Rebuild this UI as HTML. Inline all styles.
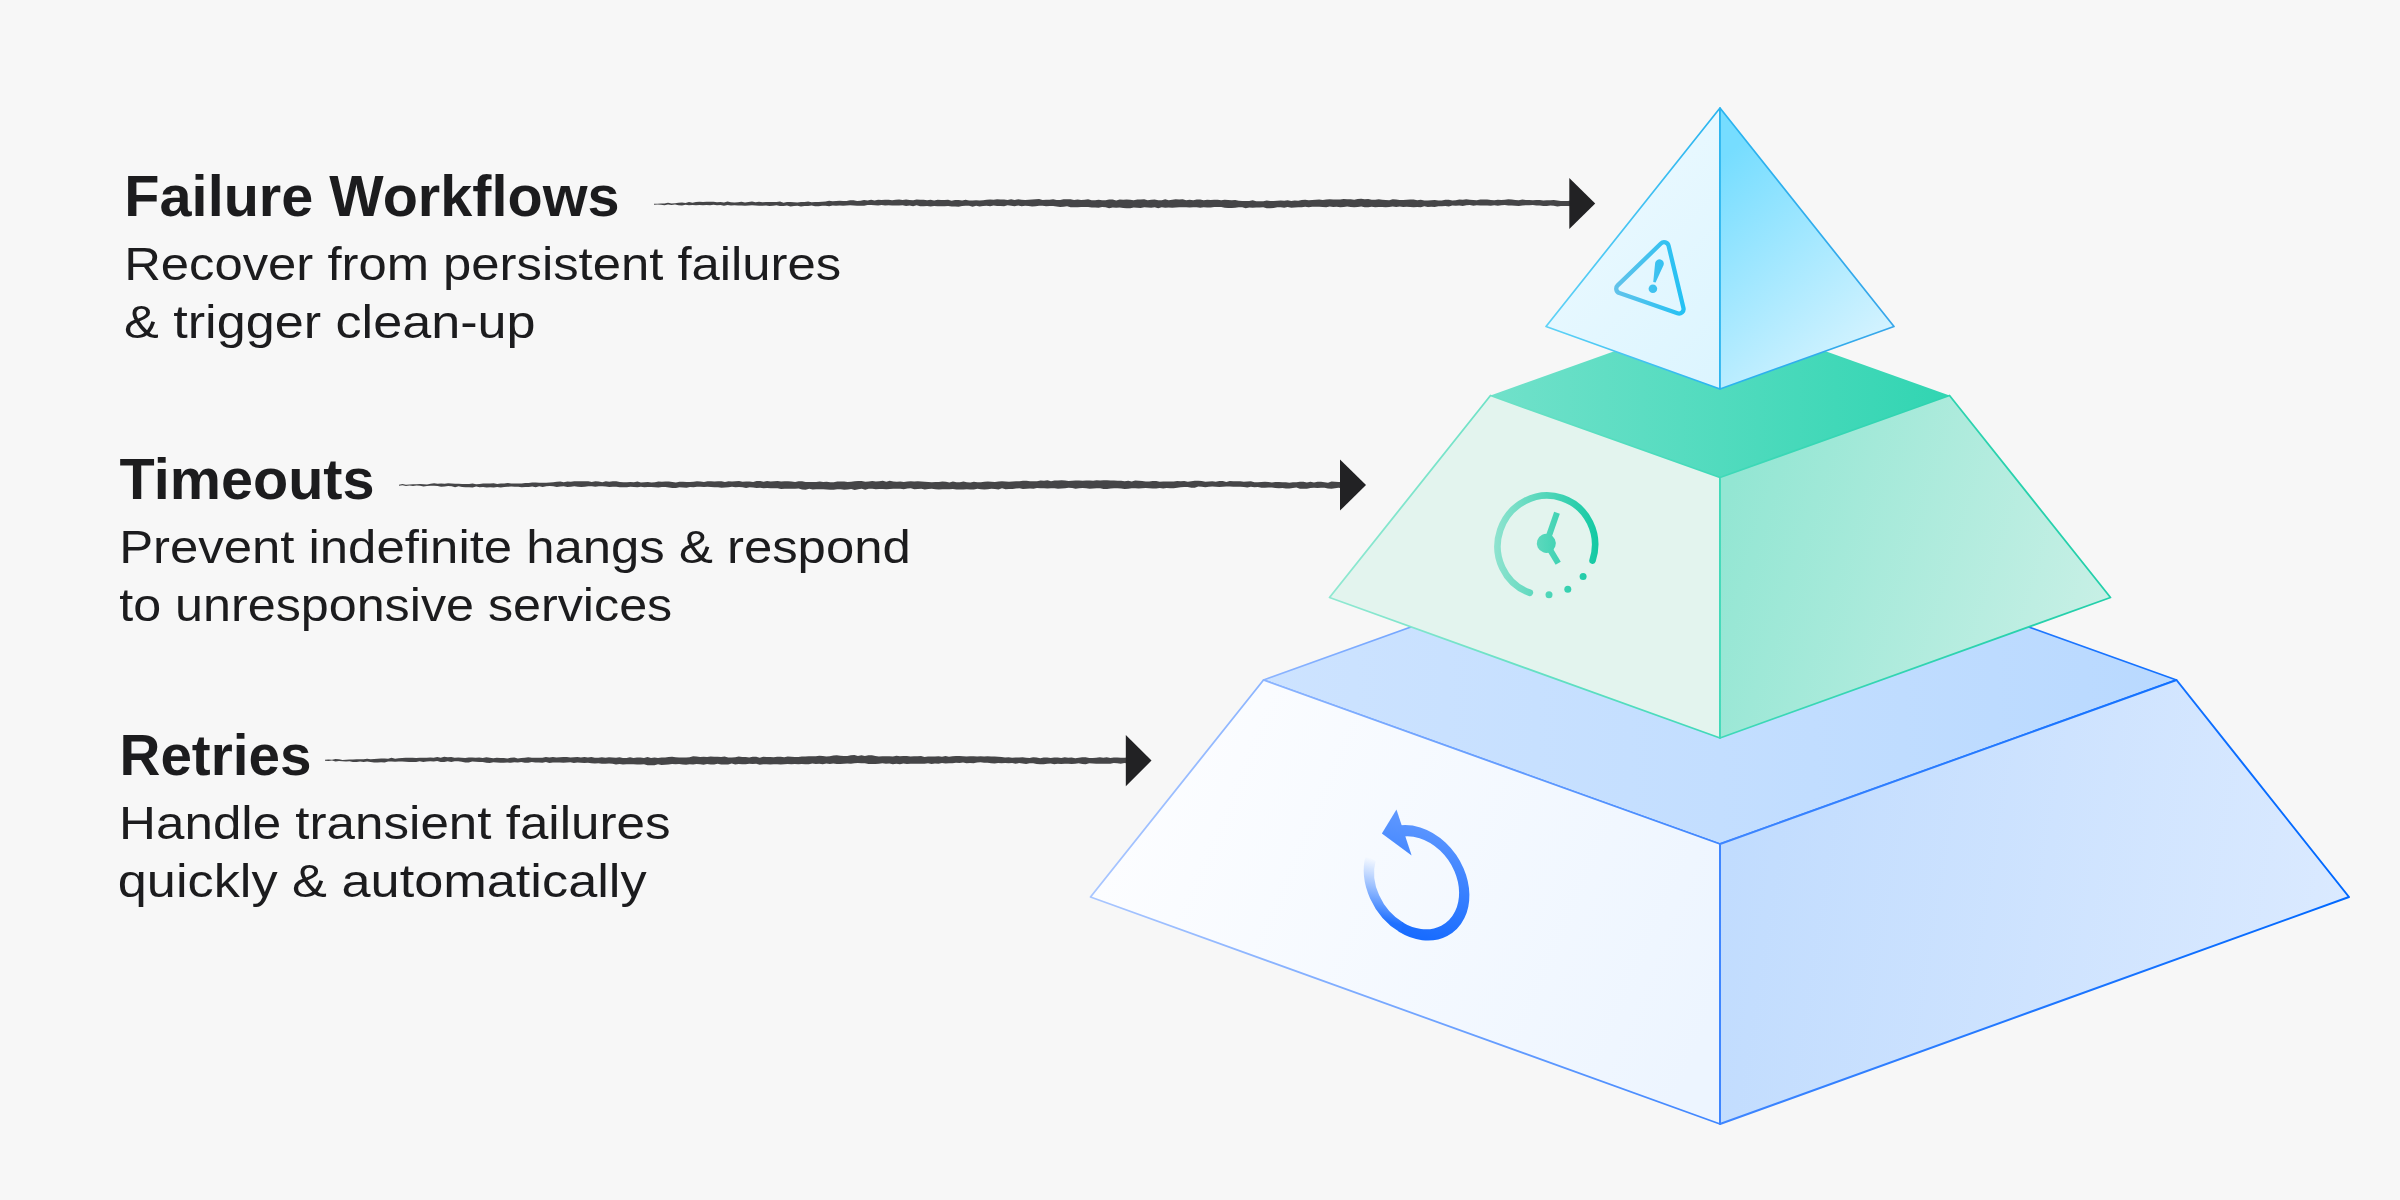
<!DOCTYPE html>
<html><head><meta charset="utf-8"><title>Pyramid</title>
<style>
html,body{margin:0;padding:0;background:#f7f7f7;}
body{width:2400px;height:1200px;overflow:hidden;font-family:"Liberation Sans",sans-serif;}
svg{display:block;will-change:transform}
text{font-family:"Liberation Sans",sans-serif;fill:#1c1c1e}
</style></head><body>
<svg width="2400" height="1200" viewBox="0 0 2400 1200">
<defs>
<!-- bottom layer -->
<linearGradient id="bTop" gradientUnits="userSpaceOnUse" x1="1263" y1="0" x2="2177" y2="0"><stop offset="0" stop-color="#cde3ff"/><stop offset="1" stop-color="#b9d9ff"/></linearGradient>
<linearGradient id="bLeft" gradientUnits="userSpaceOnUse" x1="1150" y1="760" x2="1720" y2="1000"><stop offset="0" stop-color="#fcfdff"/><stop offset="1" stop-color="#edf5ff"/></linearGradient>
<linearGradient id="bRight" gradientUnits="userSpaceOnUse" x1="1720" y1="900" x2="2349" y2="1000"><stop offset="0" stop-color="#c1dcfe"/><stop offset="1" stop-color="#dbeaff"/></linearGradient>
<linearGradient id="bStroke" gradientUnits="userSpaceOnUse" x1="1090" y1="0" x2="2349" y2="0"><stop offset="0" stop-color="#a9c6ff"/><stop offset="0.5" stop-color="#3f86ff"/><stop offset="1" stop-color="#0068ff"/></linearGradient>
<!-- mid layer -->
<linearGradient id="mTop" gradientUnits="userSpaceOnUse" x1="1490" y1="0" x2="1950" y2="0"><stop offset="0" stop-color="#71e1ca"/><stop offset="1" stop-color="#31d5b2"/></linearGradient>
<linearGradient id="mLeft" gradientUnits="userSpaceOnUse" x1="1330" y1="0" x2="1720" y2="0"><stop offset="0" stop-color="#e3f4ee"/><stop offset="1" stop-color="#e3f4ee"/></linearGradient>
<linearGradient id="mRight" gradientUnits="userSpaceOnUse" x1="1720" y1="520" x2="2110" y2="640"><stop offset="0" stop-color="#93e6d3"/><stop offset="1" stop-color="#c9f0e6"/></linearGradient>
<linearGradient id="mStroke" gradientUnits="userSpaceOnUse" x1="1330" y1="0" x2="2110" y2="0"><stop offset="0" stop-color="#90e8d1"/><stop offset="0.5" stop-color="#3fd9b8"/><stop offset="1" stop-color="#22cfaa"/></linearGradient>
<!-- top pyramid -->
<linearGradient id="tLeft" gradientUnits="userSpaceOnUse" x1="1546" y1="200" x2="1720" y2="380"><stop offset="0" stop-color="#ebf9ff"/><stop offset="1" stop-color="#dcf5ff"/></linearGradient>
<linearGradient id="tRight" gradientUnits="userSpaceOnUse" x1="1720" y1="160" x2="1880" y2="340"><stop offset="0" stop-color="#76ddff"/><stop offset="1" stop-color="#d4f3ff"/></linearGradient>
<linearGradient id="tStroke" gradientUnits="userSpaceOnUse" x1="1546" y1="0" x2="1894" y2="0"><stop offset="0" stop-color="#5fd2f6"/><stop offset="0.5" stop-color="#2ab4ef"/><stop offset="1" stop-color="#37a6ea"/></linearGradient>
<!-- icons -->
<linearGradient id="icRetry" gradientUnits="userSpaceOnUse" x1="0" y1="-66" x2="0" y2="56"><stop offset="0" stop-color="#5f98ff"/><stop offset="1" stop-color="#176bff"/></linearGradient>
<linearGradient id="icRetryFade" gradientUnits="userSpaceOnUse" x1="0" y1="-14" x2="0" y2="46"><stop offset="0" stop-color="#3b82ff" stop-opacity="0"/><stop offset="0.25" stop-color="#3b82ff" stop-opacity="0.25"/><stop offset="1" stop-color="#1f70ff" stop-opacity="1"/></linearGradient>
<linearGradient id="icClock" gradientUnits="userSpaceOnUse" x1="-52" y1="0" x2="52" y2="0" gradientTransform="rotate(-19.2)"><stop offset="0" stop-color="#8fe3cf"/><stop offset="1" stop-color="#12c9a3"/></linearGradient>
<linearGradient id="icClockS" gradientUnits="userSpaceOnUse" x1="1495" y1="0" x2="1598" y2="0"><stop offset="0" stop-color="#8fe3cf"/><stop offset="1" stop-color="#12c9a3"/></linearGradient>
<linearGradient id="icWarn" gradientUnits="userSpaceOnUse" x1="1614" y1="0" x2="1686" y2="0"><stop offset="0" stop-color="#63c3ea"/><stop offset="1" stop-color="#22c1f4"/></linearGradient>
</defs>
<rect width="2400" height="1200" fill="#f7f7f7"/>

<!-- bottom layer -->
<polygon points="1263.5,680 1720,516 2176.5,680 1720,844" fill="url(#bTop)" stroke="url(#bStroke)" stroke-width="1.6" stroke-linejoin="round"/>
<polygon points="1263.5,680 1720,844 1720,1124 1090.5,897" fill="url(#bLeft)" stroke="url(#bStroke)" stroke-width="1.8" stroke-linejoin="round"/>
<polygon points="1720,844 2176.5,680 2349,897 1720,1124" fill="url(#bRight)" stroke="url(#bStroke)" stroke-width="2" stroke-linejoin="round"/>
<!-- mid layer -->
<polygon points="1490.5,395.5 1720,313.5 1949.5,395.5 1720,477.5" fill="url(#mTop)"/>
<polygon points="1490.5,395.5 1720,477.5 1720,738 1329.5,597.5" fill="url(#mLeft)" stroke="url(#mStroke)" stroke-width="1.8" stroke-linejoin="round"/>
<polygon points="1720,477.5 1949.5,395.5 2110.5,597.5 1720,738" fill="url(#mRight)" stroke="url(#mStroke)" stroke-width="1.8" stroke-linejoin="round"/>
<!-- top pyramid -->
<polygon points="1720,108 1720,389 1546,326.5" fill="url(#tLeft)" stroke="url(#tStroke)" stroke-width="1.7" stroke-linejoin="round"/>
<polygon points="1720,108 1894,326.5 1720,389" fill="url(#tRight)" stroke="url(#tStroke)" stroke-width="1.7" stroke-linejoin="round"/>
<path d="M1660.90 243.52 A4.6 4.6 0 0 1 1668.58 245.75 L1683.44 307.91 A4.6 4.6 0 0 1 1677.45 313.33 L1619.34 293.06 A4.6 4.6 0 0 1 1617.66 285.41 Z" fill="none" stroke="url(#icWarn)" stroke-width="4.3" stroke-linejoin="round"/>
<path d="M1655.16 262.74 A4.4 4.4 0 1 1 1663.64 265.06 L1655.56 282.52 L1653.24 281.88 Z" fill="url(#icWarn)"/>
<circle cx="1652.9" cy="288.8" r="4.3" fill="url(#icWarn)"/>
<g transform="translate(1546.3 545.5) rotate(19.2) scale(1 1.03)" fill="url(#icClock)" stroke="none"><path d="M0 48.6 A48.6 48.6 0 1 1 48.59 -1.10" fill="none" stroke="url(#icClock)" stroke-width="6.6" stroke-linecap="round"/></g><circle cx="1549.0" cy="594.8" r="3.5" fill="url(#icClockS)"/><circle cx="1567.8" cy="589.2" r="3.5" fill="url(#icClockS)"/><circle cx="1583.1" cy="576.5" r="3.5" fill="url(#icClockS)"/><g transform="translate(1546.3 543.4) rotate(19.2)" fill="url(#icClock)" stroke="none"><circle cx="0" cy="0" r="9.5"/><path d="M0 0 L0 -32.5" stroke="url(#icClock)" stroke-width="6" fill="none"/><path d="M0 0 L17.75 14.79" stroke="url(#icClock)" stroke-width="6" fill="none"/></g>
<g transform="matrix(0.936 0.2234 0 1 1416.6 882.8)"><path d="M-19.07 -47.19 A50.9 50.9 0 1 1 -17.41 47.83" fill="none" stroke="url(#icRetry)" stroke-width="11.0"/><path d="M-15.73 48.41 A50.9 50.9 0 0 1 -49.05 -13.60" fill="none" stroke="url(#icRetryFade)" stroke-width="11.0"/><polygon points="-21.5,-68.6 -5.3,-26.2 -37.1,-41.0" fill="url(#icRetry)"/></g>
<!-- arrows -->
<path d="M654.0 203.65 L657.5 203.85 L661.0 203.45 L664.5 203.51 L668.0 202.79 L671.5 203.49 L675.0 203.28 L678.5 202.81 L682.0 202.45 L685.5 203.07 L689.0 201.98 L692.5 202.87 L696.0 201.96 L699.5 201.64 L703.0 202.04 L706.5 201.77 L710.0 201.71 L713.5 201.76 L717.0 202.34 L720.5 202.1 L724.0 202.47 L727.5 201.51 L731.0 202.17 L734.5 202.4 L738.0 202.3 L741.5 201.73 L745.0 202.38 L748.5 201.98 L752.0 201.49 L755.5 202.35 L759.0 201.68 L762.5 202.28 L766.0 201.94 L769.5 202.1 L773.0 202.12 L776.5 202.1 L780.0 201.6 L783.5 202.63 L787.0 201.97 L790.5 202.07 L794.0 202.33 L797.5 202.39 L801.0 201.96 L804.5 201.98 L808.1 201.58 L811.6 202.26 L815.1 202.0 L818.6 202.03 L822.1 201.85 L825.6 201.49 L829.1 200.83 L832.6 201.3 L836.1 201.12 L839.6 200.85 L843.1 200.95 L846.6 200.93 L850.1 200.19 L853.6 200.26 L857.1 200.92 L860.6 200.76 L864.1 200.09 L867.6 200.47 L871.1 199.69 L874.6 200.44 L878.1 199.68 L881.6 199.9 L885.1 199.67 L888.6 199.65 L892.1 200.23 L895.6 199.79 L899.1 199.46 L902.6 199.9 L906.1 199.57 L909.6 200.02 L913.1 200.14 L916.6 199.52 L920.1 199.68 L923.6 199.72 L927.1 200.31 L930.6 199.83 L934.1 200.48 L937.6 199.87 L941.1 200.07 L944.6 200.0 L948.1 199.72 L951.6 200.72 L955.1 199.98 L958.6 199.98 L962.1 200.44 L965.6 199.87 L969.1 200.53 L972.6 200.44 L976.1 200.13 L979.6 200.41 L983.1 200.19 L986.6 199.78 L990.1 199.55 L993.6 199.75 L997.1 199.34 L1000.6 199.5 L1004.1 199.48 L1007.6 200.07 L1011.1 199.26 L1014.6 200.09 L1018.1 199.34 L1021.6 199.68 L1025.1 199.95 L1028.6 199.87 L1032.1 199.43 L1035.6 199.15 L1039.1 198.98 L1042.6 199.9 L1046.1 199.75 L1049.6 199.85 L1053.1 199.33 L1056.6 199.93 L1060.1 200.06 L1063.6 199.19 L1067.1 199.19 L1070.6 199.19 L1074.1 200.0 L1077.6 199.54 L1081.1 200.06 L1084.6 199.85 L1088.1 199.36 L1091.6 200.29 L1095.1 200.36 L1098.6 199.68 L1102.1 200.31 L1105.6 200.15 L1109.1 199.55 L1112.7 199.48 L1116.2 200.52 L1119.7 199.55 L1123.2 199.68 L1126.7 199.51 L1130.2 199.79 L1133.7 200.35 L1137.2 199.6 L1140.7 199.4 L1144.2 199.31 L1147.7 200.31 L1151.2 199.85 L1154.7 199.51 L1158.2 200.15 L1161.7 200.18 L1165.2 199.33 L1168.7 200.16 L1172.2 199.83 L1175.7 199.36 L1179.2 199.41 L1182.7 199.17 L1186.2 200.18 L1189.7 199.84 L1193.2 200.19 L1196.7 199.54 L1200.2 199.59 L1203.7 200.28 L1207.2 199.72 L1210.7 200.05 L1214.2 199.74 L1217.7 199.81 L1221.2 200.21 L1224.7 199.76 L1228.2 200.06 L1231.7 200.35 L1235.2 200.04 L1238.7 200.81 L1242.2 201.03 L1245.7 200.89 L1249.2 200.98 L1252.7 200.23 L1256.2 201.14 L1259.7 201.13 L1263.2 201.16 L1266.7 200.5 L1270.2 201.03 L1273.7 201.05 L1277.2 200.85 L1280.7 200.53 L1284.2 200.79 L1287.7 200.23 L1291.2 200.94 L1294.7 200.42 L1298.2 200.68 L1301.7 200.1 L1305.2 199.87 L1308.7 200.21 L1312.2 200.05 L1315.7 199.73 L1319.2 199.39 L1322.7 200.09 L1326.2 199.54 L1329.7 199.29 L1333.2 199.54 L1336.7 199.62 L1340.2 199.6 L1343.7 199.06 L1347.2 199.29 L1350.7 199.18 L1354.2 199.73 L1357.7 199.04 L1361.2 198.81 L1364.7 199.35 L1368.2 198.99 L1371.7 199.83 L1375.2 199.66 L1378.7 199.35 L1382.2 199.8 L1385.7 199.99 L1389.2 200.15 L1392.7 199.34 L1396.2 199.44 L1399.7 200.09 L1403.2 200.05 L1406.7 199.73 L1410.2 199.57 L1413.7 199.47 L1417.2 200.35 L1420.8 199.78 L1424.3 200.56 L1427.8 200.38 L1431.3 200.27 L1434.8 200.04 L1438.3 200.62 L1441.8 200.43 L1445.3 199.73 L1448.8 199.68 L1452.3 200.58 L1455.8 200.14 L1459.3 199.57 L1462.8 199.67 L1466.3 199.36 L1469.8 199.8 L1473.3 199.98 L1476.8 200.18 L1480.3 199.54 L1483.8 199.51 L1487.3 199.47 L1490.8 200.06 L1494.3 200.25 L1497.8 199.73 L1501.3 200.05 L1504.8 199.64 L1508.3 199.36 L1511.8 199.4 L1515.3 199.91 L1518.8 200.19 L1522.3 199.55 L1525.8 200.08 L1529.3 200.06 L1532.8 200.14 L1536.3 200.11 L1539.8 200.01 L1543.3 200.6 L1546.8 200.33 L1550.3 200.26 L1553.8 199.9 L1557.3 200.6 L1560.8 200.89 L1564.3 201.1 L1567.8 200.96 L1571.3 200.62 L1571.3 206.27 L1567.8 206.12 L1564.3 206.12 L1560.8 206.12 L1557.3 206.46 L1553.8 205.73 L1550.3 205.58 L1546.8 206.0 L1543.3 205.97 L1539.8 205.59 L1536.3 205.58 L1532.8 205.02 L1529.3 205.35 L1525.8 205.25 L1522.3 205.41 L1518.8 205.88 L1515.3 205.84 L1511.8 205.57 L1508.3 205.62 L1504.8 205.03 L1501.3 205.34 L1497.8 205.66 L1494.3 205.34 L1490.8 205.65 L1487.3 205.55 L1483.8 205.48 L1480.3 205.48 L1476.8 205.17 L1473.3 205.67 L1469.8 205.09 L1466.3 205.34 L1462.8 206.03 L1459.3 205.6 L1455.8 205.8 L1452.3 205.55 L1448.8 206.52 L1445.3 205.97 L1441.8 206.18 L1438.3 206.22 L1434.8 206.89 L1431.3 206.73 L1427.8 206.95 L1424.3 206.24 L1420.8 207.15 L1417.2 206.89 L1413.7 207.32 L1410.2 207.07 L1406.7 206.87 L1403.2 207.11 L1399.7 206.39 L1396.2 206.97 L1392.7 206.62 L1389.2 206.98 L1385.7 207.33 L1382.2 207.0 L1378.7 207.11 L1375.2 207.27 L1371.7 206.67 L1368.2 207.17 L1364.7 207.29 L1361.2 206.41 L1357.7 207.05 L1354.2 207.36 L1350.7 206.99 L1347.2 206.61 L1343.7 206.91 L1340.2 207.18 L1336.7 206.87 L1333.2 206.96 L1329.7 206.44 L1326.2 207.14 L1322.7 206.95 L1319.2 206.84 L1315.7 206.75 L1312.2 206.72 L1308.7 207.16 L1305.2 206.78 L1301.7 207.18 L1298.2 207.36 L1294.7 207.51 L1291.2 207.86 L1287.7 207.09 L1284.2 207.8 L1280.7 207.28 L1277.2 207.34 L1273.7 207.99 L1270.2 208.19 L1266.7 208.21 L1263.2 207.26 L1259.7 207.39 L1256.2 207.56 L1252.7 207.79 L1249.2 207.57 L1245.7 208.29 L1242.2 207.37 L1238.7 207.24 L1235.2 207.68 L1231.7 208.05 L1228.2 207.95 L1224.7 207.74 L1221.2 207.09 L1217.7 207.06 L1214.2 206.98 L1210.7 207.59 L1207.2 207.51 L1203.7 207.23 L1200.2 207.81 L1196.7 207.23 L1193.2 207.3 L1189.7 207.58 L1186.2 207.37 L1182.7 207.2 L1179.2 207.18 L1175.7 207.53 L1172.2 207.68 L1168.7 207.58 L1165.2 207.7 L1161.7 207.17 L1158.2 208.15 L1154.7 207.18 L1151.2 207.64 L1147.7 207.5 L1144.2 207.22 L1140.7 207.95 L1137.2 207.78 L1133.7 207.59 L1130.2 208.34 L1126.7 208.28 L1123.2 208.09 L1119.7 207.44 L1116.2 207.69 L1112.7 207.46 L1109.1 208.14 L1105.6 207.22 L1102.1 207.07 L1098.6 207.86 L1095.1 207.43 L1091.6 207.48 L1088.1 207.07 L1084.6 206.94 L1081.1 207.0 L1077.6 207.15 L1074.1 207.27 L1070.6 207.21 L1067.1 206.19 L1063.6 206.64 L1060.1 206.91 L1056.6 206.5 L1053.1 206.07 L1049.6 206.07 L1046.1 206.24 L1042.6 205.75 L1039.1 205.64 L1035.6 206.2 L1032.1 206.44 L1028.6 206.08 L1025.1 205.68 L1021.6 206.2 L1018.1 205.51 L1014.6 206.14 L1011.1 205.65 L1007.6 205.32 L1004.1 206.28 L1000.6 205.9 L997.1 206.11 L993.6 205.62 L990.1 206.18 L986.6 205.86 L983.1 206.07 L979.6 206.61 L976.1 205.76 L972.6 206.66 L969.1 205.66 L965.6 205.65 L962.1 206.11 L958.6 206.69 L955.1 206.61 L951.6 206.62 L948.1 205.97 L944.6 206.32 L941.1 206.23 L937.6 206.28 L934.1 206.1 L930.6 206.56 L927.1 206.04 L923.6 206.17 L920.1 206.13 L916.6 205.31 L913.1 206.14 L909.6 205.42 L906.1 206.12 L902.6 205.29 L899.1 205.46 L895.6 205.52 L892.1 205.46 L888.6 205.23 L885.1 205.48 L881.6 204.96 L878.1 205.55 L874.6 205.14 L871.1 204.88 L867.6 204.96 L864.1 205.81 L860.6 205.8 L857.1 205.8 L853.6 205.6 L850.1 205.24 L846.6 205.53 L843.1 205.75 L839.6 205.48 L836.1 205.68 L832.6 205.41 L829.1 206.18 L825.6 205.73 L822.1 205.87 L818.6 206.14 L815.1 206.26 L811.6 205.38 L808.1 205.99 L804.5 205.91 L801.0 206.45 L797.5 205.66 L794.0 205.99 L790.5 206.46 L787.0 205.54 L783.5 205.98 L780.0 206.07 L776.5 205.29 L773.0 205.65 L769.5 206.03 L766.0 205.61 L762.5 205.82 L759.0 205.63 L755.5 205.43 L752.0 205.2 L748.5 205.53 L745.0 205.77 L741.5 205.45 L738.0 205.51 L734.5 205.2 L731.0 205.5 L727.5 205.06 L724.0 205.63 L720.5 204.88 L717.0 205.29 L713.5 204.7 L710.0 205.2 L706.5 204.96 L703.0 205.27 L699.5 204.99 L696.0 205.17 L692.5 205.1 L689.0 205.24 L685.5 204.64 L682.0 205.62 L678.5 205.33 L675.0 204.5 L671.5 204.93 L668.0 204.44 L664.5 205.23 L661.0 204.79 L657.5 204.51 L654.0 204.71Z" fill="#454547"/>
<polygon points="1569.3,177.9 1595.2,203.5 1569.3,229.1" fill="#222224"/>
<path d="M399.0 484.64 L402.5 484.04 L406.0 484.79 L409.5 484.51 L413.0 484.34 L416.5 484.23 L420.0 483.98 L423.5 484.22 L427.0 484.4 L430.6 483.78 L434.1 483.27 L437.6 483.69 L441.1 483.54 L444.6 483.65 L448.1 483.32 L451.6 483.42 L455.1 483.64 L458.6 483.83 L462.1 484.08 L465.6 483.91 L469.1 483.94 L472.6 483.49 L476.1 484.15 L479.6 483.91 L483.1 483.57 L486.6 483.58 L490.1 483.56 L493.7 483.36 L497.2 483.92 L500.7 483.5 L504.2 483.61 L507.7 483.0 L511.2 483.45 L514.7 483.6 L518.2 483.52 L521.7 483.48 L525.2 482.89 L528.7 482.96 L532.2 482.49 L535.7 482.62 L539.2 482.64 L542.7 482.76 L546.2 482.77 L549.7 482.5 L553.2 482.31 L556.8 481.76 L560.3 481.55 L563.8 482.31 L567.3 481.54 L570.8 481.72 L574.3 481.24 L577.8 481.36 L581.3 481.23 L584.8 481.15 L588.3 481.13 L591.8 482.0 L595.3 481.31 L598.8 481.54 L602.3 482.22 L605.8 481.2 L609.3 481.86 L612.8 481.34 L616.3 481.28 L619.9 482.12 L623.4 482.31 L626.9 482.3 L630.4 481.91 L633.9 482.15 L637.4 481.56 L640.9 482.44 L644.4 482.14 L647.9 482.08 L651.4 482.59 L654.9 482.2 L658.4 481.56 L661.9 481.69 L665.4 481.56 L668.9 481.61 L672.4 482.04 L675.9 482.48 L679.4 481.68 L683.0 481.66 L686.5 482.03 L690.0 482.09 L693.5 481.73 L697.0 481.22 L700.5 481.62 L704.0 481.92 L707.5 481.18 L711.0 481.28 L714.5 481.56 L718.0 481.29 L721.5 481.15 L725.0 481.95 L728.5 481.34 L732.0 481.48 L735.5 481.29 L739.0 481.02 L742.5 481.7 L746.1 481.39 L749.6 481.5 L753.1 481.93 L756.6 480.88 L760.1 481.0 L763.6 481.83 L767.1 480.96 L770.6 481.42 L774.1 481.23 L777.6 481.12 L781.1 481.48 L784.6 481.18 L788.1 481.34 L791.6 481.59 L795.1 482.01 L798.6 481.33 L802.1 481.3 L805.6 481.93 L809.2 481.99 L812.7 481.95 L816.2 482.02 L819.7 481.6 L823.2 482.07 L826.7 481.74 L830.2 482.19 L833.7 482.13 L837.2 481.39 L840.7 481.56 L844.2 481.46 L847.7 481.97 L851.2 481.83 L854.7 481.29 L858.2 481.03 L861.7 480.92 L865.2 481.8 L868.7 481.51 L872.3 481.1 L875.8 481.49 L879.3 481.23 L882.8 480.86 L886.3 481.78 L889.8 480.84 L893.3 481.53 L896.8 481.75 L900.3 481.56 L903.8 481.91 L907.3 481.47 L910.8 481.37 L914.3 481.58 L917.8 481.17 L921.3 481.55 L924.8 481.85 L928.3 481.9 L931.8 482.24 L935.4 482.05 L938.9 482.12 L942.4 481.58 L945.9 481.82 L949.4 482.5 L952.9 481.47 L956.4 482.27 L959.9 482.23 L963.4 481.55 L966.9 482.34 L970.4 482.54 L973.9 481.64 L977.4 482.36 L980.9 482.31 L984.4 481.66 L987.9 481.56 L991.4 481.84 L994.9 481.92 L998.5 481.46 L1002.0 481.24 L1005.5 481.62 L1009.0 481.73 L1012.5 481.46 L1016.0 481.2 L1019.5 481.3 L1023.0 480.75 L1026.5 480.76 L1030.0 481.35 L1033.5 481.15 L1037.0 481.27 L1040.5 480.43 L1044.0 480.69 L1047.5 480.13 L1051.0 481.13 L1054.5 480.61 L1058.0 480.46 L1061.6 480.28 L1065.1 480.45 L1068.6 480.91 L1072.1 480.8 L1075.6 480.6 L1079.1 480.61 L1082.6 480.83 L1086.1 480.62 L1089.6 480.53 L1093.1 480.85 L1096.6 480.34 L1100.1 480.54 L1103.6 480.37 L1107.1 480.22 L1110.6 480.55 L1114.1 480.52 L1117.6 480.72 L1121.1 480.76 L1124.7 481.32 L1128.2 480.87 L1131.7 481.45 L1135.2 480.58 L1138.7 480.72 L1142.2 480.96 L1145.7 481.45 L1149.2 481.49 L1152.7 481.05 L1156.2 481.0 L1159.7 481.65 L1163.2 481.4 L1166.7 481.46 L1170.2 481.6 L1173.7 481.47 L1177.2 480.96 L1180.7 481.37 L1184.2 481.07 L1187.8 481.69 L1191.3 481.16 L1194.8 480.85 L1198.3 480.79 L1201.8 481.05 L1205.3 481.69 L1208.8 481.54 L1212.3 481.33 L1215.8 481.69 L1219.3 481.12 L1222.8 481.0 L1226.3 481.88 L1229.8 481.05 L1233.3 481.2 L1236.8 481.24 L1240.3 481.29 L1243.8 481.74 L1247.3 481.53 L1250.9 481.24 L1254.4 482.17 L1257.9 482.14 L1261.4 481.92 L1264.9 481.77 L1268.4 482.12 L1271.9 482.6 L1275.4 482.07 L1278.9 481.94 L1282.4 482.28 L1285.9 482.25 L1289.4 482.77 L1292.9 482.21 L1296.4 482.3 L1299.9 481.85 L1303.4 481.87 L1306.9 482.47 L1310.4 481.8 L1314.0 482.57 L1317.5 481.79 L1321.0 481.84 L1324.5 482.36 L1328.0 482.66 L1331.5 481.61 L1335.0 481.79 L1338.5 482.11 L1342.0 482.01 L1342.0 488.14 L1338.5 487.77 L1335.0 488.16 L1331.5 488.64 L1328.0 488.38 L1324.5 487.78 L1321.0 487.85 L1317.5 488.08 L1314.0 487.7 L1310.4 488.01 L1306.9 488.67 L1303.4 488.67 L1299.9 488.7 L1296.4 487.62 L1292.9 487.98 L1289.4 488.4 L1285.9 488.51 L1282.4 488.01 L1278.9 488.22 L1275.4 487.91 L1271.9 487.58 L1268.4 487.51 L1264.9 487.84 L1261.4 487.85 L1257.9 486.99 L1254.4 487.24 L1250.9 486.85 L1247.3 487.46 L1243.8 486.92 L1240.3 486.75 L1236.8 486.81 L1233.3 486.85 L1229.8 486.57 L1226.3 486.41 L1222.8 486.63 L1219.3 486.97 L1215.8 486.71 L1212.3 486.57 L1208.8 486.83 L1205.3 487.37 L1201.8 486.84 L1198.3 486.54 L1194.8 487.63 L1191.3 487.63 L1187.8 487.11 L1184.2 487.0 L1180.7 487.3 L1177.2 487.67 L1173.7 488.15 L1170.2 488.19 L1166.7 488.08 L1163.2 488.39 L1159.7 487.98 L1156.2 488.48 L1152.7 488.5 L1149.2 488.36 L1145.7 487.99 L1142.2 488.19 L1138.7 488.61 L1135.2 488.17 L1131.7 488.32 L1128.2 488.7 L1124.7 489.04 L1121.1 488.38 L1117.6 488.26 L1114.1 488.16 L1110.6 488.46 L1107.1 488.94 L1103.6 489.06 L1100.1 488.24 L1096.6 488.21 L1093.1 488.61 L1089.6 488.82 L1086.1 488.29 L1082.6 487.93 L1079.1 488.23 L1075.6 488.66 L1072.1 488.1 L1068.6 487.83 L1065.1 488.33 L1061.6 488.45 L1058.0 488.7 L1054.5 488.17 L1051.0 488.16 L1047.5 488.39 L1044.0 488.13 L1040.5 488.26 L1037.0 488.02 L1033.5 488.78 L1030.0 488.4 L1026.5 488.83 L1023.0 488.89 L1019.5 488.14 L1016.0 488.45 L1012.5 488.95 L1009.0 489.09 L1005.5 489.23 L1002.0 488.36 L998.5 489.47 L994.9 488.96 L991.4 488.76 L987.9 489.19 L984.4 489.42 L980.9 489.2 L977.4 488.8 L973.9 489.48 L970.4 489.56 L966.9 489.26 L963.4 489.62 L959.9 489.47 L956.4 489.53 L952.9 489.05 L949.4 489.22 L945.9 489.23 L942.4 489.15 L938.9 489.38 L935.4 489.14 L931.8 488.76 L928.3 488.89 L924.8 489.38 L921.3 488.78 L917.8 488.88 L914.3 489.28 L910.8 488.34 L907.3 488.46 L903.8 489.17 L900.3 488.76 L896.8 488.84 L893.3 488.64 L889.8 488.95 L886.3 489.25 L882.8 489.05 L879.3 489.07 L875.8 489.29 L872.3 488.84 L868.7 488.77 L865.2 489.77 L861.7 488.82 L858.2 489.23 L854.7 489.92 L851.2 488.97 L847.7 489.54 L844.2 489.68 L840.7 489.24 L837.2 489.2 L833.7 489.86 L830.2 489.81 L826.7 489.43 L823.2 489.17 L819.7 489.34 L816.2 489.33 L812.7 489.58 L809.2 488.69 L805.6 489.65 L802.1 489.45 L798.6 488.56 L795.1 488.77 L791.6 488.75 L788.1 488.76 L784.6 488.86 L781.1 488.95 L777.6 488.13 L774.1 488.35 L770.6 488.13 L767.1 487.99 L763.6 488.13 L760.1 487.63 L756.6 487.96 L753.1 487.53 L749.6 487.35 L746.1 487.98 L742.5 487.3 L739.0 486.94 L735.5 487.37 L732.0 486.8 L728.5 487.27 L725.0 487.49 L721.5 487.66 L718.0 487.36 L714.5 487.16 L711.0 486.89 L707.5 486.86 L704.0 486.94 L700.5 486.81 L697.0 486.74 L693.5 487.3 L690.0 487.02 L686.5 487.64 L683.0 487.43 L679.4 487.29 L675.9 487.9 L672.4 487.9 L668.9 487.52 L665.4 487.01 L661.9 486.89 L658.4 487.43 L654.9 487.26 L651.4 487.07 L647.9 486.91 L644.4 487.16 L640.9 486.83 L637.4 487.14 L633.9 486.95 L630.4 486.8 L626.9 487.28 L623.4 487.28 L619.9 487.21 L616.3 486.84 L612.8 486.66 L609.3 487.06 L605.8 486.57 L602.3 486.31 L598.8 486.14 L595.3 486.82 L591.8 486.19 L588.3 486.27 L584.8 486.77 L581.3 487.0 L577.8 486.68 L574.3 486.33 L570.8 486.72 L567.3 486.91 L563.8 486.22 L560.3 486.55 L556.8 486.96 L553.2 486.32 L549.7 486.12 L546.2 486.3 L542.7 486.93 L539.2 486.25 L535.7 487.24 L532.2 486.48 L528.7 486.93 L525.2 486.89 L521.7 487.13 L518.2 486.73 L514.7 486.71 L511.2 486.62 L507.7 486.81 L504.2 487.0 L500.7 487.48 L497.2 486.97 L493.7 487.43 L490.1 487.36 L486.6 487.45 L483.1 486.99 L479.6 487.16 L476.1 486.52 L472.6 487.38 L469.1 487.13 L465.6 487.22 L462.1 487.05 L458.6 486.33 L455.1 487.18 L451.6 486.19 L448.1 486.02 L444.6 486.54 L441.1 486.81 L437.6 486.09 L434.1 485.68 L430.6 485.87 L427.0 486.09 L423.5 486.52 L420.0 485.79 L416.5 485.47 L413.0 485.91 L409.5 485.54 L406.0 485.96 L402.5 485.21 L399.0 485.63Z" fill="#454547"/>
<polygon points="1340,459.4 1366,485 1340,510.6" fill="#222224"/>
<path d="M325.0 759.81 L328.5 759.61 L332.0 759.83 L335.5 759.09 L339.0 759.3 L342.5 760.04 L346.0 759.8 L349.5 759.5 L353.0 759.41 L356.6 759.19 L360.1 759.24 L363.6 759.22 L367.1 758.63 L370.6 759.19 L374.1 758.96 L377.6 758.87 L381.1 758.43 L384.6 758.39 L388.1 758.77 L391.6 757.85 L395.1 758.66 L398.6 758.19 L402.1 757.95 L405.6 757.68 L409.1 757.85 L412.6 757.87 L416.1 757.98 L419.7 757.7 L423.2 757.85 L426.7 757.84 L430.2 757.59 L433.7 757.69 L437.2 757.07 L440.7 757.69 L444.2 756.85 L447.7 757.22 L451.2 757.12 L454.7 757.79 L458.2 757.54 L461.7 757.7 L465.2 757.93 L468.7 757.57 L472.2 757.41 L475.7 757.78 L479.2 757.39 L482.8 757.9 L486.3 757.32 L489.8 757.65 L493.3 758.32 L496.8 757.87 L500.3 758.08 L503.8 758.0 L507.3 758.41 L510.8 757.84 L514.3 757.61 L517.8 758.39 L521.3 757.88 L524.8 757.69 L528.3 757.21 L531.8 757.83 L535.3 757.77 L538.8 757.77 L542.4 757.74 L545.9 756.94 L549.4 757.6 L552.9 757.09 L556.4 757.42 L559.9 757.13 L563.4 757.11 L566.9 757.01 L570.4 757.51 L573.9 757.28 L577.4 757.0 L580.9 757.55 L584.4 756.89 L587.9 757.47 L591.4 757.09 L594.9 757.68 L598.4 757.74 L601.9 757.21 L605.5 757.85 L609.0 757.16 L612.5 757.53 L616.0 757.87 L619.5 757.21 L623.0 757.92 L626.5 757.94 L630.0 757.2 L633.5 757.94 L637.0 757.44 L640.5 757.5 L644.0 758.03 L647.5 756.99 L651.0 757.92 L654.5 757.38 L658.0 757.88 L661.5 757.62 L665.1 757.47 L668.6 757.0 L672.1 756.87 L675.6 757.21 L679.1 757.39 L682.6 757.44 L686.1 757.41 L689.6 757.33 L693.1 756.31 L696.6 756.45 L700.1 756.97 L703.6 756.68 L707.1 756.91 L710.6 756.53 L714.1 756.8 L717.6 756.7 L721.1 756.93 L724.6 756.57 L728.2 757.44 L731.7 757.38 L735.2 757.21 L738.7 756.62 L742.2 756.91 L745.7 757.11 L749.2 757.54 L752.7 756.77 L756.2 756.87 L759.7 757.81 L763.2 756.83 L766.7 757.08 L770.2 757.09 L773.7 757.32 L777.2 756.84 L780.7 756.71 L784.2 757.3 L787.7 756.52 L791.3 756.76 L794.8 757.12 L798.3 757.05 L801.8 756.54 L805.3 756.51 L808.8 756.32 L812.3 756.26 L815.8 756.24 L819.3 755.63 L822.8 755.93 L826.3 756.41 L829.8 756.29 L833.3 755.52 L836.8 755.31 L840.3 755.86 L843.8 755.97 L847.3 755.89 L850.9 755.19 L854.4 755.08 L857.9 755.94 L861.4 755.21 L864.9 756.11 L868.4 755.21 L871.9 755.37 L875.4 756.03 L878.9 756.39 L882.4 756.28 L885.9 756.3 L889.4 756.3 L892.9 756.4 L896.4 755.69 L899.9 756.29 L903.4 755.98 L906.9 756.02 L910.4 756.6 L914.0 756.2 L917.5 756.19 L921.0 755.9 L924.5 756.88 L928.0 756.62 L931.5 756.54 L935.0 756.5 L938.5 756.3 L942.0 756.76 L945.5 755.88 L949.0 756.79 L952.5 756.27 L956.0 755.99 L959.5 756.01 L963.0 756.15 L966.5 756.59 L970.0 756.18 L973.6 756.34 L977.1 756.57 L980.6 756.21 L984.1 756.56 L987.6 756.28 L991.1 756.52 L994.6 756.4 L998.1 756.86 L1001.6 756.93 L1005.1 757.42 L1008.6 757.14 L1012.1 757.65 L1015.6 757.61 L1019.1 757.42 L1022.6 757.26 L1026.1 757.81 L1029.6 758.06 L1033.1 757.37 L1036.7 757.41 L1040.2 758.18 L1043.7 757.54 L1047.2 757.62 L1050.7 758.08 L1054.2 757.38 L1057.7 757.59 L1061.2 757.89 L1064.7 757.23 L1068.2 757.68 L1071.7 757.39 L1075.2 758.18 L1078.7 757.69 L1082.2 757.36 L1085.7 757.14 L1089.2 757.99 L1092.7 757.99 L1096.2 757.78 L1099.8 757.24 L1103.3 757.63 L1106.8 757.2 L1110.3 757.97 L1113.8 757.52 L1117.3 757.49 L1120.8 757.77 L1124.3 757.65 L1127.8 757.62 L1127.8 763.48 L1124.3 763.12 L1120.8 763.66 L1117.3 763.3 L1113.8 763.04 L1110.3 763.67 L1106.8 763.78 L1103.3 763.86 L1099.8 763.75 L1096.2 763.87 L1092.7 763.49 L1089.2 763.23 L1085.7 764.14 L1082.2 763.93 L1078.7 763.37 L1075.2 763.7 L1071.7 763.95 L1068.2 763.86 L1064.7 763.71 L1061.2 764.09 L1057.7 763.74 L1054.2 764.26 L1050.7 763.41 L1047.2 763.75 L1043.7 764.19 L1040.2 764.18 L1036.7 763.9 L1033.1 763.34 L1029.6 763.24 L1026.1 763.94 L1022.6 763.59 L1019.1 762.99 L1015.6 763.73 L1012.1 763.04 L1008.6 763.33 L1005.1 763.09 L1001.6 763.33 L998.1 763.02 L994.6 763.4 L991.1 763.13 L987.6 762.64 L984.1 762.65 L980.6 762.25 L977.1 762.52 L973.6 763.18 L970.0 763.05 L966.5 763.36 L963.0 762.62 L959.5 763.06 L956.0 762.78 L952.5 763.36 L949.0 763.22 L945.5 763.56 L942.0 762.99 L938.5 763.63 L935.0 763.58 L931.5 763.9 L928.0 763.3 L924.5 763.63 L921.0 763.78 L917.5 763.73 L914.0 763.74 L910.4 763.76 L906.9 764.02 L903.4 763.55 L899.9 764.27 L896.4 763.7 L892.9 764.36 L889.4 763.43 L885.9 763.85 L882.4 763.3 L878.9 763.86 L875.4 764.11 L871.9 764.08 L868.4 764.05 L864.9 763.29 L861.4 763.17 L857.9 763.09 L854.4 763.18 L850.9 763.65 L847.3 763.62 L843.8 763.74 L840.3 763.99 L836.8 763.93 L833.3 763.57 L829.8 763.96 L826.3 763.55 L822.8 764.15 L819.3 763.7 L815.8 764.05 L812.3 763.62 L808.8 764.17 L805.3 764.24 L801.8 763.93 L798.3 764.27 L794.8 764.05 L791.3 764.35 L787.7 763.92 L784.2 764.18 L780.7 764.4 L777.2 764.17 L773.7 764.22 L770.2 764.54 L766.7 764.18 L763.2 764.37 L759.7 764.75 L756.2 763.86 L752.7 763.9 L749.2 763.74 L745.7 764.22 L742.2 764.25 L738.7 763.94 L735.2 764.56 L731.7 763.59 L728.2 764.45 L724.6 764.42 L721.1 764.44 L717.6 763.76 L714.1 764.41 L710.6 764.51 L707.1 763.96 L703.6 764.65 L700.1 764.22 L696.6 764.0 L693.1 764.52 L689.6 764.37 L686.1 764.77 L682.6 764.59 L679.1 763.93 L675.6 764.24 L672.1 764.05 L668.6 764.39 L665.1 764.63 L661.5 765.01 L658.0 764.36 L654.5 765.18 L651.0 765.23 L647.5 765.18 L644.0 764.3 L640.5 764.55 L637.0 764.52 L633.5 764.31 L630.0 764.27 L626.5 764.26 L623.0 764.5 L619.5 764.01 L616.0 764.52 L612.5 763.7 L609.0 763.51 L605.5 763.76 L601.9 763.86 L598.4 763.21 L594.9 763.38 L591.4 763.15 L587.9 762.79 L584.4 763.05 L580.9 762.73 L577.4 762.62 L573.9 763.11 L570.4 762.25 L566.9 762.58 L563.4 762.77 L559.9 762.41 L556.4 762.39 L552.9 762.52 L549.4 763.06 L545.9 762.06 L542.4 762.8 L538.8 762.38 L535.3 762.51 L531.8 762.07 L528.3 762.69 L524.8 762.66 L521.3 762.05 L517.8 762.61 L514.3 762.37 L510.8 762.82 L507.3 762.58 L503.8 762.68 L500.3 762.63 L496.8 762.51 L493.3 762.32 L489.8 762.91 L486.3 762.75 L482.8 761.91 L479.2 762.12 L475.7 761.64 L472.2 761.62 L468.7 762.56 L465.2 762.47 L461.7 761.68 L458.2 761.3 L454.7 761.24 L451.2 761.97 L447.7 761.24 L444.2 761.91 L440.7 762.09 L437.2 761.04 L433.7 761.58 L430.2 761.17 L426.7 761.57 L423.2 762.01 L419.7 761.15 L416.1 762.08 L412.6 762.04 L409.1 762.05 L405.6 761.74 L402.1 761.56 L398.6 761.52 L395.1 761.71 L391.6 761.51 L388.1 761.42 L384.6 762.38 L381.1 762.26 L377.6 762.42 L374.1 762.39 L370.6 761.95 L367.1 761.47 L363.6 762.04 L360.1 761.38 L356.6 762.03 L353.0 762.08 L349.5 761.18 L346.0 761.43 L342.5 761.31 L339.0 760.93 L335.5 761.48 L332.0 760.51 L328.5 760.98 L325.0 760.75Z" fill="#454547"/>
<polygon points="1125.8,735.0 1151.5,760.6 1125.8,786.2" fill="#222224"/>
<!-- text -->
<text x="124.38" y="215.8" font-size="57" font-weight="bold" textLength="495.2" lengthAdjust="spacingAndGlyphs">Failure Workflows</text>
<text x="124.17" y="279.5" font-size="46" font-weight="normal" textLength="717.0" lengthAdjust="spacingAndGlyphs">Recover from persistent failures</text>
<text x="123.93" y="337.5" font-size="46" font-weight="normal" textLength="411.6" lengthAdjust="spacingAndGlyphs">&amp; trigger clean-up</text>
<text x="119.57" y="499.2" font-size="57" font-weight="bold" textLength="255.0" lengthAdjust="spacingAndGlyphs">Timeouts</text>
<text x="119.16" y="563.3" font-size="46" font-weight="normal" textLength="791.6" lengthAdjust="spacingAndGlyphs">Prevent indefinite hangs &amp; respond</text>
<text x="119.23" y="621.2" font-size="46" font-weight="normal" textLength="553.0" lengthAdjust="spacingAndGlyphs">to unresponsive services</text>
<text x="119.49" y="775" font-size="57" font-weight="bold" textLength="192.0" lengthAdjust="spacingAndGlyphs">Retries</text>
<text x="119.13" y="838.8" font-size="46" font-weight="normal" textLength="551.4" lengthAdjust="spacingAndGlyphs">Handle transient failures</text>
<text x="117.79" y="897" font-size="46" font-weight="normal" textLength="528.8" lengthAdjust="spacingAndGlyphs">quickly &amp; automatically</text>
</svg></body></html>
